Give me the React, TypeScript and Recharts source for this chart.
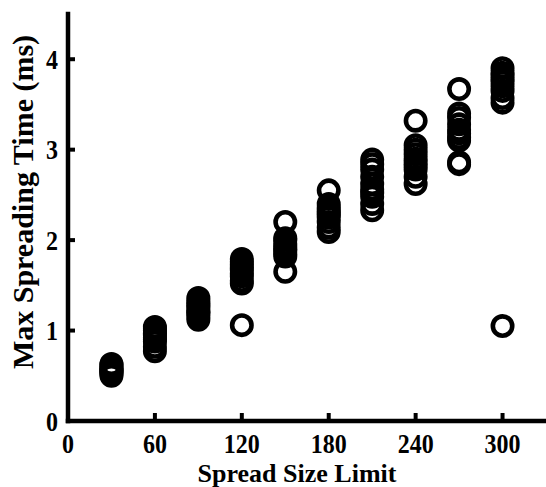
import React from 'react';
import { ScatterChart, Scatter, XAxis, YAxis } from 'recharts';

const spreadLimits = [30, 60, 90, 120, 150, 180, 210, 240, 270, 300];
const times30 = [0.5, 0.52, 0.54, 0.55, 0.56, 0.57, 0.58, 0.6, 0.62, 0.63];
const times60 = [0.77, 0.82, 0.88, 0.9, 0.92, 0.95, 0.97, 1.0, 1.02, 1.04];
const times90 = [1.12, 1.15, 1.19, 1.2, 1.22, 1.25, 1.28, 1.3, 1.33, 1.36];
const times120 = [1.06, 1.52, 1.55, 1.6, 1.63, 1.67, 1.7, 1.73, 1.76, 1.79];
const times150 = [1.65, 1.82, 1.85, 1.88, 1.9, 1.93, 1.96, 2.0, 2.02, 2.2];
const times180 = [2.09, 2.14, 2.2, 2.25, 2.28, 2.3, 2.33, 2.36, 2.4, 2.55];
const times210 = [2.33, 2.4, 2.48, 2.52, 2.56, 2.62, 2.7, 2.78, 2.84, 2.89];
const times240 = [2.62, 2.7, 2.78, 2.82, 2.86, 2.9, 2.95, 3.0, 3.05, 3.32];
const times270 = [2.84, 2.86, 3.1, 3.13, 3.18, 3.22, 3.28, 3.35, 3.4, 3.67];
const times300 = [1.05, 3.52, 3.57, 3.65, 3.7, 3.75, 3.78, 3.82, 3.85, 3.9];

const xTicks = [0, 60, 120, 180, 240, 300];
const yTicks = [0, 1, 2, 3, 4];

const groups = [times30, times60, times90, times120, times150, times180, times210, times240, times270, times300];
const points = groups.flatMap((g, i) => g.map((t) => ({ limit: spreadLimits[i], time: t })));

const FONT = '"Liberation Serif", "Times New Roman", serif';

const XTick = (props: any) => {
  const { x, y, payload } = props;
  return (
    <g>
      <line x1={x} y1={y} x2={x} y2={y - 8} stroke="#000" strokeWidth={4} />
      <text
        x={0}
        y={0}
        transform={`translate(${x},${y + 32}) scale(1,1.18)`}
        textAnchor="middle"
        fontFamily={FONT}
        fontWeight="bold"
        fontSize={24}
        fill="#000"
      >
        {payload.value}
      </text>
    </g>
  );
};

const YTick = (props: any) => {
  const { x, y, payload } = props;
  return (
    <g>
      <line x1={x} y1={y} x2={x + 7} y2={y} stroke="#000" strokeWidth={4} />
      <text
        x={0}
        y={0}
        transform={`translate(${x - 10},${y + 9.5}) scale(1,1.18)`}
        textAnchor="end"
        fontFamily={FONT}
        fontWeight="bold"
        fontSize={24}
        fill="#000"
      >
        {payload.value}
      </text>
    </g>
  );
};

const Ring = (props: any) => {
  const { cx, cy } = props;
  return <circle cx={cx} cy={cy} r={9.7} fill="none" stroke="#000" strokeWidth={4.6} />;
};

export default function App() {
  return (
    <div style={{ position: 'absolute', left: 0, top: 0, background: '#fff' }}>
      <ScatterChart width={546} height={487} margin={{ top: 14, right: 0, bottom: 0, left: 0 }}>
        <XAxis
          type="number"
          dataKey="limit"
          domain={[0, 330]}
          ticks={xTicks}
          tick={<XTick />}
          tickSize={0}
          tickMargin={0}
          tickLine={false}
          height={66}
          axisLine={{ stroke: '#000', strokeWidth: 4.5, strokeLinecap: 'square' }}
          allowDataOverflow
          label={{
            content: () => (
              <text x={297} y={482} textAnchor="middle" fontFamily={FONT} fontWeight="bold" fontSize={26} fill="#000">
                Spread Size Limit
              </text>
            ),
          }}
        />
        <YAxis
          type="number"
          dataKey="time"
          domain={[0, 4.5]}
          ticks={yTicks}
          tick={<YTick />}
          tickSize={0}
          tickMargin={0}
          tickLine={false}
          width={68}
          axisLine={{ stroke: '#000', strokeWidth: 4.5, strokeLinecap: 'square' }}
          allowDataOverflow
          label={{
            content: () => (
              <text
                x={0}
                y={0}
                transform="translate(33,202) rotate(-90)"
                textAnchor="middle"
                fontFamily={FONT}
                fontWeight="bold"
                fontSize={30}
                fill="#000"
              >
                Max Spreading Time (ms)
              </text>
            ),
          }}
        />
        <Scatter data={points} shape={<Ring />} isAnimationActive={false} />
      </ScatterChart>
    </div>
  );
}
